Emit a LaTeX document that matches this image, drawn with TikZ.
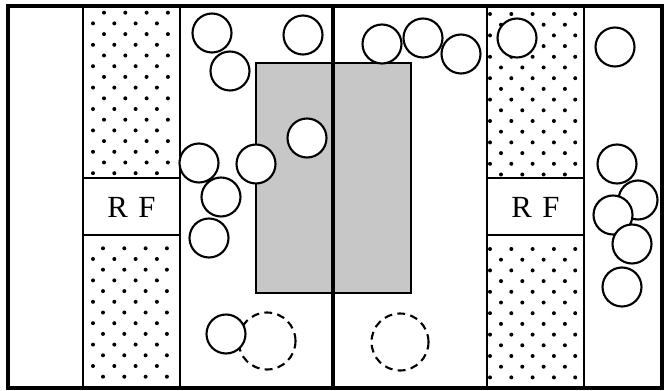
\documentclass[tikz,border=0pt]{standalone}
\usepackage{fontspec}
\setmainfont{Liberation Serif}
\usepackage{tikz}
\usetikzlibrary{calc, positioning}

\tikzset{
    ball/.style={circle, draw, fill=white, line width=1.2pt, inner sep=0pt, minimum size=0.78cm},
    ghost/.style={circle, draw, fill=white, line width=1.2pt, inner sep=0pt, minimum size=1.14cm,
                  dash pattern=on 4.5pt off 3pt},
    label/.style={font=\fontsize{17.5}{20}\selectfont, inner sep=0pt}
}

\begin{document}
\begin{tikzpicture}[>=latex, x=0.02cm, y=-0.02cm]
    \useasboundingbox (0,0) rectangle (668,391);

    % Vùng xám ở giữa
    \fill[black!22] (256,63) rectangle (411,293);
    \draw[line width=1.1pt] (256,63) rectangle (411,293);

    % Các chấm trong hai dải
    \foreach \xe/\xo/\ne/\ys/\nr in {104/93/3/12.7/15, 103/93/3/248.3/12, 490/501/4/14/15, 490/501/4/249/12} {
        \foreach \k in {0,...,\nr} {
            \pgfmathsetmacro\yy{\ys+10.7*\k}
            \pgfmathtruncatemacro\rowodd{mod(\k,2)}
            \ifnum\rowodd=0
                \foreach \j in {0,...,\ne} \fill (\xe+21.3*\j,\yy) circle (2);
            \else
                \foreach \j in {0,...,3} \fill (\xo+21.3*\j,\yy) circle (2);
            \fi
        }
    }

    % Các đường dọc và ngang
    \draw[line width=1pt] (83,6) -- (83,388) (180,6) -- (180,388);
    \draw[line width=1pt] (487,6) -- (487,388) (584,6) -- (584,388);
    \draw[line width=1pt] (83,178) -- (180,178) (83,235) -- (180,235);
    \draw[line width=1pt] (487,178) -- (584,178) (487,235) -- (584,235);
    \draw[line width=2pt] (333,6) -- (333,388);

    % Nhãn RF
    \node[label] (rfL) at (131.5,207) {R\hspace{6pt}F};
    \node[label] (rfR) at (535.5,207) {R\hspace{6pt}F};

    % Các hình tròn nét đứt
    \node[ghost] (d1) at (267,341) {};
    \node[ghost] (d2) at (400,342) {};

    % Các hình tròn
    \foreach \n/\x/\y in {1/212/33, 2/303/35, 3/230/71, 4/307/138, 5/199/163, 6/256/164,
                          7/221/197, 8/209/238, 9/226/334, 10/382/44, 11/423/38, 12/461/54,
                          13/517/38, 14/615/47, 15/617/164, 16/638/200, 17/613/215,
                          18/632/244, 19/622/287} {
        \node[ball] (b\n) at (\x,\y) {};
    }

    % Khung ngoài
    \draw[line width=1.8pt] (8,6) rectangle (662,388);
\end{tikzpicture}
\end{document}
